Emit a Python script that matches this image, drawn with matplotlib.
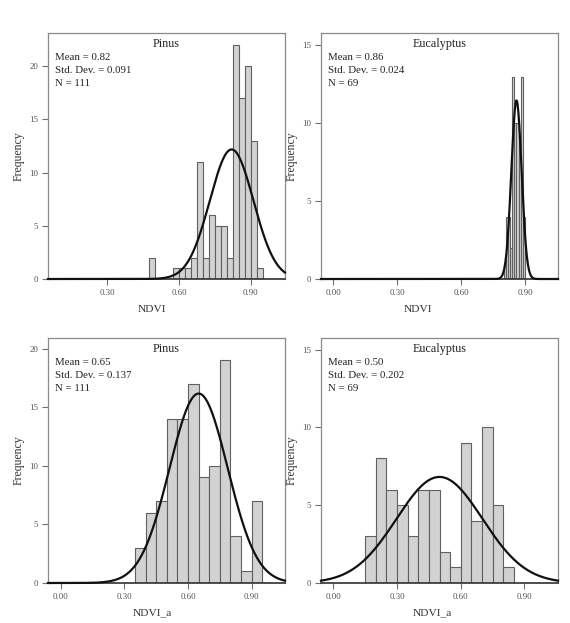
import matplotlib
matplotlib.use("Agg")
import matplotlib.pyplot as plt
import numpy

plt.rcParams["font.family"] = ["Liberation Serif", "DejaVu Serif"]

# histogram data (left bin edges, counts)
pinus_ndvi_lefts = [0.475, 0.575, 0.600, 0.625, 0.650, 0.675, 0.700, 0.725,
                    0.750, 0.775, 0.800, 0.825, 0.850, 0.875, 0.900, 0.925]
pinus_ndvi_counts = [2, 1, 1, 1, 2, 11, 2, 6, 5, 5, 2, 22, 17, 20, 13, 1]

euc_ndvi_lefts = [0.80, 0.81, 0.82, 0.83, 0.84, 0.85, 0.86, 0.87, 0.88, 0.89]
euc_ndvi_counts = [1, 4, 4, 2, 13, 10, 10, 8, 13, 4]

pinus_ndvia_lefts = [0.35, 0.40, 0.45, 0.50, 0.55, 0.60,
                     0.65, 0.70, 0.75, 0.80, 0.85, 0.90]
pinus_ndvia_counts = [3, 6, 7, 14, 14, 17, 9, 10, 19, 4, 1, 7]

euc_ndvia_lefts = [0.15, 0.20, 0.25, 0.30, 0.35, 0.40, 0.45,
                   0.50, 0.55, 0.60, 0.65, 0.70, 0.75, 0.80]
euc_ndvia_counts = [3, 8, 6, 5, 3, 6, 6, 2, 1, 9, 4, 10, 5, 1]

titles = ["Pinus", "Eucalyptus", "Pinus", "Eucalyptus"]
xlabels = ["NDVI", "NDVI", "NDVI_a", "NDVI_a"]
means = [0.82, 0.86, 0.65, 0.50]
stds = [0.091, 0.024, 0.137, 0.202]
ns = [111, 69, 111, 69]
mean_labels = ["0.82", "0.86", "0.65", "0.50"]
std_labels = ["0.091", "0.024", "0.137", "0.202"]
bin_widths = [0.025, 0.01, 0.05, 0.05]
lefts = [pinus_ndvi_lefts, euc_ndvi_lefts, pinus_ndvia_lefts, euc_ndvia_lefts]
counts = [pinus_ndvi_counts, euc_ndvi_counts, pinus_ndvia_counts, euc_ndvia_counts]

xticks_all = [[0.30, 0.60, 0.90], [0.0, 0.30, 0.60, 0.90],
              [0.0, 0.30, 0.60, 0.90], [0.0, 0.30, 0.60, 0.90]]
yticks_all = [[0, 5, 10, 15, 20], [0, 5, 10, 15], [0, 5, 10, 15, 20], [0, 5, 10, 15]]
xlims = [(0.053, 1.043), (-0.058, 1.055), (-0.06, 1.057), (-0.058, 1.058)]
ylims = [23.1, 15.8, 20.9, 15.74]

W, H = 570, 623
# axes boxes in pixels: left, top, right, bottom
boxes = [(48, 33, 285, 279), (321, 33, 558, 279),
         (48, 338, 285, 583), (321, 338, 558, 583)]
xlabel_x = [0.44, 0.41, 0.44, 0.47]

fig = plt.figure(figsize=(W / 100, H / 100), dpi=100)
fig.patch.set_facecolor("white")

for i in range(4):
    l, t, r, b = boxes[i]
    ax = fig.add_axes([l / W, (H - b) / H, (r - l) / W, (b - t) / H])

    ax.bar(lefts[i], counts[i], width=bin_widths[i], align="edge",
           facecolor="#d2d2d2", edgecolor="#606060", linewidth=0.8, zorder=2)

    x = numpy.linspace(xlims[i][0], xlims[i][1], 600)
    y = ns[i] * bin_widths[i] / (stds[i] * numpy.sqrt(2 * numpy.pi)) * \
        numpy.exp(-0.5 * ((x - means[i]) / stds[i]) ** 2)
    ax.plot(x, y, color="#111111", linewidth=1.6, zorder=3, clip_on=False)

    ax.set_xlim(*xlims[i])
    ax.set_ylim(0, ylims[i])
    ax.set_xticks(xticks_all[i])
    ax.set_xticklabels(["%.2f" % v for v in xticks_all[i]])
    ax.set_yticks(yticks_all[i])
    ax.tick_params(axis="both", direction="out", length=4, width=0.8,
                   color="#707070", labelcolor="#505050", labelsize=6.3, pad=3)

    for side in ["left", "top", "right"]:
        ax.spines[side].set_color("#8a8a8a")
        ax.spines[side].set_linewidth(0.9)
    ax.spines["bottom"].set_color("#303030")
    ax.spines["bottom"].set_linewidth(1.2)

    ax.set_ylabel("Frequency", fontsize=8.5, color="#333333")
    ax.yaxis.set_label_coords(-0.10, 0.5)
    ax.set_xlabel(xlabels[i], fontsize=8.2, color="#333333")
    ax.xaxis.set_label_coords(xlabel_x[i], -0.105)

    ax.text(0.5, 0.955, titles[i], transform=ax.transAxes, ha="center",
            va="center", fontsize=8.7, color="#222222")
    stats = "Mean = %s\nStd. Dev. = %s\nN = %d" % (mean_labels[i], std_labels[i], ns[i])
    ax.text(0.028, 0.92, stats, transform=ax.transAxes, ha="left", va="top",
            fontsize=7.8, color="#222222", linespacing=1.6)

fig.savefig("out.png", dpi=100)
